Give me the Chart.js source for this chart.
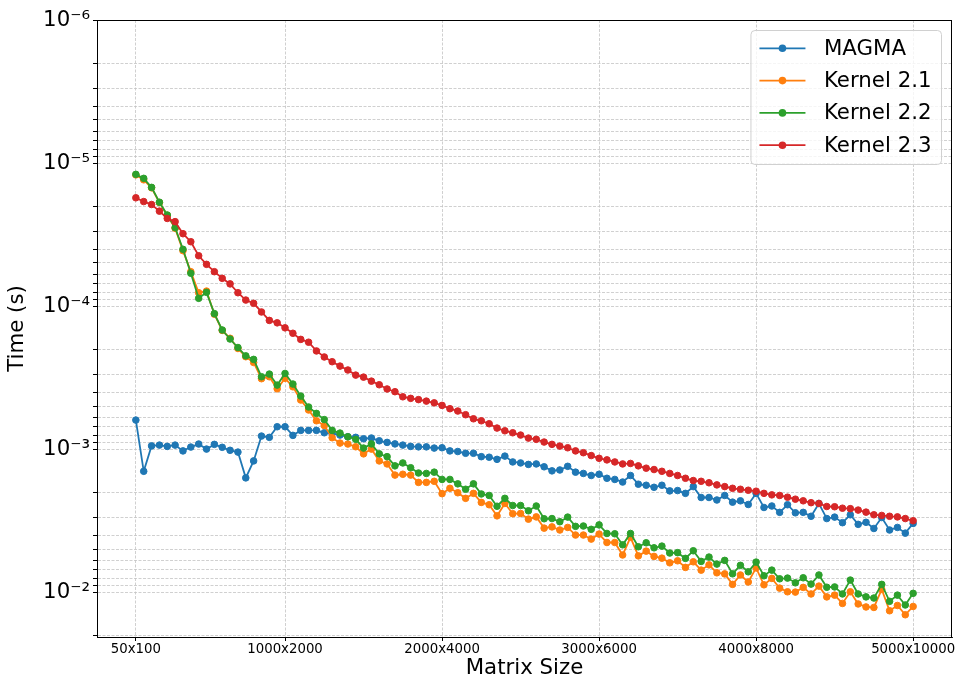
<!DOCTYPE html>
<html>
<head>
<meta charset="utf-8">
<script src="https://cdn.jsdelivr.net/npm/chart.js@4/dist/chart.umd.min.js"></script>
<style>
  html, body { margin: 0; padding: 0; background: #fff; }
  #wrap { width: 959px; height: 684px; position: relative; }
</style>
</head>
<body>
<div id="wrap"><canvas id="chart"></canvas></div>
<script>
// matrix size N (matrix is N x 2N)
const sizes = [50, 100, 150, 200, 250, 300, 350, 400, 450, 500,
  550, 600, 650, 700, 750, 800, 850, 900, 950, 1000,
  1050, 1100, 1150, 1200, 1250, 1300, 1350, 1400, 1450, 1500,
  1550, 1600, 1650, 1700, 1750, 1800, 1850, 1900, 1950, 2000,
  2050, 2100, 2150, 2200, 2250, 2300, 2350, 2400, 2450, 2500,
  2550, 2600, 2650, 2700, 2750, 2800, 2850, 2900, 2950, 3000,
  3050, 3100, 3150, 3200, 3250, 3300, 3350, 3400, 3450, 3500,
  3550, 3600, 3650, 3700, 3750, 3800, 3850, 3900, 3950, 4000,
  4050, 4100, 4150, 4200, 4250, 4300, 4350, 4400, 4450, 4500,
  4550, 4600, 4650, 4700, 4750, 4800, 4850, 4900, 4950, 5000];

const magma = [6.27e-4, 1.43e-3, 9.50e-4, 9.38e-4, 9.58e-4, 9.38e-4, 1.03e-3, 9.68e-4, 9.22e-4, 1.00e-3,
  9.27e-4, 9.72e-4, 1.02e-3, 1.05e-3, 1.59e-3, 1.21e-3, 8.11e-4, 8.28e-4, 6.98e-4, 6.98e-4,
  8.02e-4, 7.40e-4, 7.40e-4, 7.40e-4, 7.69e-4, 7.78e-4, 7.98e-4, 8.20e-4, 8.28e-4, 8.47e-4,
  8.37e-4, 8.75e-4, 8.98e-4, 9.20e-4, 9.38e-4, 9.58e-4, 9.65e-4, 9.65e-4, 9.84e-4, 9.79e-4,
  1.03e-3, 1.04e-3, 1.07e-3, 1.07e-3, 1.13e-3, 1.14e-3, 1.18e-3, 1.12e-3, 1.23e-3, 1.25e-3,
  1.28e-3, 1.27e-3, 1.33e-3, 1.42e-3, 1.40e-3, 1.32e-3, 1.45e-3, 1.48e-3, 1.53e-3, 1.50e-3,
  1.60e-3, 1.63e-3, 1.70e-3, 1.53e-3, 1.76e-3, 1.79e-3, 1.85e-3, 1.79e-3, 1.96e-3, 1.95e-3,
  2.04e-3, 1.83e-3, 2.18e-3, 2.18e-3, 2.27e-3, 2.11e-3, 2.35e-3, 2.30e-3, 2.44e-3, 2.04e-3,
  2.56e-3, 2.50e-3, 2.77e-3, 2.45e-3, 2.79e-3, 2.77e-3, 2.95e-3, 2.40e-3, 3.06e-3, 2.99e-3,
  3.27e-3, 2.88e-3, 3.36e-3, 3.25e-3, 3.59e-3, 3.01e-3, 3.68e-3, 3.53e-3, 3.87e-3, 3.31e-3];

const kernel21 = [1.21e-5, 1.31e-5, 1.49e-5, 1.89e-5, 2.32e-5, 2.86e-5, 4.10e-5, 5.75e-5, 8.07e-5, 7.86e-5,
  1.14e-4, 1.48e-4, 1.68e-4, 1.98e-4, 2.26e-4, 2.48e-4, 3.22e-4, 3.12e-4, 3.79e-4, 3.20e-4,
  3.67e-4, 4.54e-4, 5.33e-4, 6.34e-4, 6.85e-4, 8.33e-4, 9.08e-4, 9.22e-4, 9.63e-4, 1.08e-3,
  1.00e-3, 1.21e-3, 1.27e-3, 1.52e-3, 1.50e-3, 1.52e-3, 1.71e-3, 1.71e-3, 1.68e-3, 2.05e-3,
  1.88e-3, 2.02e-3, 2.21e-3, 2.04e-3, 2.36e-3, 2.45e-3, 2.93e-3, 2.40e-3, 2.83e-3, 2.82e-3,
  3.09e-3, 2.98e-3, 3.57e-3, 3.50e-3, 3.68e-3, 3.53e-3, 3.99e-3, 3.99e-3, 4.26e-3, 3.93e-3,
  4.50e-3, 4.50e-3, 5.50e-3, 4.14e-3, 5.58e-3, 5.17e-3, 5.63e-3, 5.79e-3, 6.24e-3, 6.04e-3,
  6.72e-3, 6.14e-3, 7.02e-3, 6.45e-3, 7.33e-3, 7.46e-3, 8.83e-3, 7.59e-3, 8.50e-3, 6.77e-3,
  8.89e-3, 8.02e-3, 9.38e-3, 9.95e-3, 1.00e-2, 9.27e-3, 1.03e-2, 9.08e-3, 1.08e-2, 1.05e-2,
  1.20e-2, 9.95e-3, 1.21e-2, 1.27e-2, 1.28e-2, 9.58e-3, 1.35e-2, 1.24e-2, 1.44e-2, 1.26e-2];

const kernel22 = [1.20e-5, 1.28e-5, 1.48e-5, 1.88e-5, 2.31e-5, 2.83e-5, 4.01e-5, 5.90e-5, 8.83e-5, 8.02e-5,
  1.13e-4, 1.47e-4, 1.70e-4, 1.95e-4, 2.23e-4, 2.36e-4, 3.12e-4, 2.99e-4, 3.57e-4, 2.96e-4,
  3.51e-4, 4.26e-4, 5.08e-4, 5.63e-4, 6.22e-4, 7.40e-4, 7.73e-4, 8.20e-4, 8.55e-4, 9.84e-4,
  9.20e-4, 1.08e-3, 1.13e-3, 1.31e-3, 1.25e-3, 1.35e-3, 1.47e-3, 1.48e-3, 1.45e-3, 1.63e-3,
  1.63e-3, 1.75e-3, 1.91e-3, 1.75e-3, 2.06e-3, 2.11e-3, 2.51e-3, 2.21e-3, 2.48e-3, 2.48e-3,
  2.70e-3, 2.50e-3, 3.07e-3, 3.06e-3, 3.22e-3, 2.99e-3, 3.47e-3, 3.45e-3, 3.64e-3, 3.39e-3,
  3.89e-3, 3.91e-3, 4.67e-3, 3.89e-3, 4.82e-3, 4.52e-3, 4.90e-3, 4.77e-3, 5.33e-3, 5.30e-3,
  5.81e-3, 5.14e-3, 6.10e-3, 5.69e-3, 6.37e-3, 6.00e-3, 7.45e-3, 6.50e-3, 7.21e-3, 6.17e-3,
  7.69e-3, 7.02e-3, 8.07e-3, 7.98e-3, 8.61e-3, 7.94e-3, 8.79e-3, 7.59e-3, 9.25e-3, 9.20e-3,
  1.03e-2, 8.24e-3, 1.03e-2, 1.08e-2, 1.10e-2, 8.83e-3, 1.16e-2, 1.05e-2, 1.23e-2, 1.02e-2];

const kernel23 = [1.75e-5, 1.86e-5, 1.95e-5, 2.17e-5, 2.44e-5, 2.57e-5, 3.12e-5, 3.55e-5, 4.45e-5, 5.11e-5,
  5.75e-5, 6.40e-5, 7.00e-5, 8.07e-5, 9.08e-5, 9.57e-5, 1.10e-4, 1.26e-4, 1.31e-4, 1.42e-4,
  1.55e-4, 1.71e-4, 1.79e-4, 2.06e-4, 2.27e-4, 2.45e-4, 2.63e-4, 2.80e-4, 3.04e-4, 3.14e-4,
  3.35e-4, 3.55e-4, 3.80e-4, 3.97e-4, 4.31e-4, 4.42e-4, 4.51e-4, 4.62e-4, 4.75e-4, 4.95e-4,
  5.22e-4, 5.42e-4, 5.75e-4, 6.14e-4, 6.34e-4, 6.65e-4, 7.13e-4, 7.45e-4, 7.69e-4, 7.98e-4,
  8.38e-4, 8.55e-4, 8.93e-4, 9.27e-4, 9.53e-4, 9.79e-4, 1.03e-3, 1.06e-3, 1.11e-3, 1.16e-3,
  1.19e-3, 1.23e-3, 1.27e-3, 1.26e-3, 1.31e-3, 1.36e-3, 1.39e-3, 1.43e-3, 1.48e-3, 1.53e-3,
  1.60e-3, 1.66e-3, 1.68e-3, 1.72e-3, 1.78e-3, 1.83e-3, 1.88e-3, 1.91e-3, 1.94e-3, 1.97e-3,
  2.04e-3, 2.09e-3, 2.11e-3, 2.17e-3, 2.24e-3, 2.30e-3, 2.37e-3, 2.40e-3, 2.52e-3, 2.53e-3,
  2.59e-3, 2.61e-3, 2.67e-3, 2.76e-3, 2.88e-3, 2.91e-3, 2.95e-3, 2.98e-3, 3.06e-3, 3.17e-3];

const xTickValues = [50, 1000, 2000, 3000, 4000, 5000];
const xTickLabels = ['50x100', '1000x2000', '2000x4000', '3000x6000', '4000x8000', '5000x10000'];
const yMajorTicks = [1e-6, 1e-5, 1e-4, 1e-3, 1e-2];
const yTickLabels = ['10\u207B\u2076', '10\u207B\u2075', '10\u207B\u2074', '10\u207B\u00B3', '10\u207B\u00B2'];
const yMinorSteps = [2, 3, 4, 5, 6, 7, 8, 9];

const seriesNames = ['MAGMA', 'Kernel 2.1', 'Kernel 2.2', 'Kernel 2.3'];
const seriesData = [magma, kernel21, kernel22, kernel23];
const colors = ['#1f77b4', '#ff7f0e', '#2ca02c', '#d62728'];

const Y_MIN = 1e-6, Y_MAX = 0.0206;

Chart.defaults.font.family = "'DejaVu Sans', sans-serif";
Chart.defaults.color = '#000';

const datasets = seriesData.map((vals, i) => ({
  label: seriesNames[i],
  data: vals.map((v, j) => ({ x: sizes[j], y: v })),
  borderColor: colors[i],
  backgroundColor: colors[i],
  pointBackgroundColor: colors[i],
  pointBorderColor: colors[i],
  borderWidth: 1.8,
  pointRadius: 3.3,
  pointBorderWidth: 1,
  tension: 0,
  fill: false,
  order: seriesData.length - i  // later series drawn on top, like matplotlib
}));

// axes frame (matplotlib style box)
const framePlugin = {
  id: 'frame',
  afterDatasetsDraw(chart) {
    const { ctx, chartArea: a } = chart;
    ctx.save();
    ctx.strokeStyle = '#000';
    ctx.lineWidth = 1;
    ctx.strokeRect(Math.round(a.left) + 0.5, Math.round(a.top) + 0.5,
      Math.round(a.right - a.left) - 1, Math.round(a.bottom - a.top));
    ctx.restore();
  }
};

// boxed legend in the upper right corner
const legendPlugin = {
  id: 'boxLegend',
  afterDraw(chart) {
    const { ctx, chartArea: a } = chart;
    const ds = chart.data.datasets;
    ctx.save();
    ctx.font = "21.3px 'DejaVu Sans'";
    let maxW = 0;
    ds.forEach(d => { maxW = Math.max(maxW, ctx.measureText(d.label).width); });
    const w = 73 + maxW + 10;
    const h = 134;
    const right = a.right - 10.5;
    const left = right - w;
    const top = a.top + 10.5;
    ctx.beginPath();
    ctx.roundRect(left, top, w, h, 4);
    ctx.fillStyle = 'rgba(255,255,255,0.8)';
    ctx.fill();
    ctx.strokeStyle = '#d0d0d0';
    ctx.lineWidth = 1;
    ctx.stroke();
    ds.forEach((d, i) => {
      const cy = top + 17.8 + i * 32.3;
      ctx.strokeStyle = d.borderColor;
      ctx.lineWidth = 1.8;
      ctx.beginPath();
      ctx.moveTo(left + 8.5, cy);
      ctx.lineTo(left + 54.5, cy);
      ctx.stroke();
      ctx.fillStyle = d.borderColor;
      ctx.beginPath();
      ctx.arc(left + 31.5, cy, 3.8, 0, Math.PI * 2);
      ctx.fill();
      ctx.fillStyle = '#000';
      ctx.textBaseline = 'middle';
      ctx.textAlign = 'left';
      ctx.fillText(d.label, left + 73, cy + 1);
    });
    ctx.restore();
  }
};

new Chart(document.getElementById('chart'), {
  type: 'line',
  data: { datasets },
  plugins: [framePlugin, legendPlugin],
  options: {
    responsive: true,
    maintainAspectRatio: false,
    animation: false,
    layout: { padding: { top: 20, right: 7, left: 0, bottom: 0 } },
    plugins: {
      legend: { display: false },
      tooltip: { enabled: false }
    },
    scales: {
      x: {
        type: 'linear',
        min: -197.5,
        max: 5247.5,
        bounds: 'data',
        afterBuildTicks(scale) {
          scale.ticks = xTickValues.map(v => ({ value: v }));
        },
        afterFit(scale) { scale.height = 47; },
        ticks: {
          autoSkip: false,
          maxRotation: 0,
          padding: 1,
          font: { size: 13.3 },
          callback(value) {
            const k = xTickValues.indexOf(value);
            return k >= 0 ? xTickLabels[k] : '';
          }
        },
        grid: {
          color: '#c4c4c4',
          lineWidth: 0.8,
          tickColor: '#000',
          tickLength: 4,
          tickWidth: 1
        },
        border: { color: '#000', width: 1, dash: [3, 1.5] },
        title: {
          display: true,
          text: 'Matrix Size',
          font: { size: 21.3 },
          padding: { top: 0, bottom: 3 }
        }
      },
      y: {
        type: 'logarithmic',
        reverse: true,
        min: Y_MIN,
        max: Y_MAX,
        bounds: 'data',
        afterBuildTicks(scale) {
          const t = [];
          yMajorTicks.forEach(m => {
            t.push({ value: m });
            yMinorSteps.forEach(s => {
              const v = m * s;
              if (v <= Y_MAX) t.push({ value: v });
            });
          });
          scale.ticks = t;
        },
        afterFit(scale) { scale.width = 97; },
        ticks: {
          autoSkip: false,
          padding: 3,
          font: { size: 21.3 },
          callback(value) {
            for (let k = 0; k < yMajorTicks.length; k++) {
              if (Math.abs(Math.log10(value) - Math.log10(yMajorTicks[k])) < 1e-6) return yTickLabels[k];
            }
            return '';
          }
        },
        grid: {
          color: '#c4c4c4',
          lineWidth: 0.8,
          tickColor: '#000',
          tickLength: 4,
          tickWidth: 1
        },
        border: { color: '#000', width: 1, dash: [3, 1.5] },
        title: {
          display: true,
          text: 'Time (s)',
          font: { size: 21.3 },
          padding: { top: 5, bottom: 0 }
        }
      }
    }
  }
});
</script>
</body>
</html>
